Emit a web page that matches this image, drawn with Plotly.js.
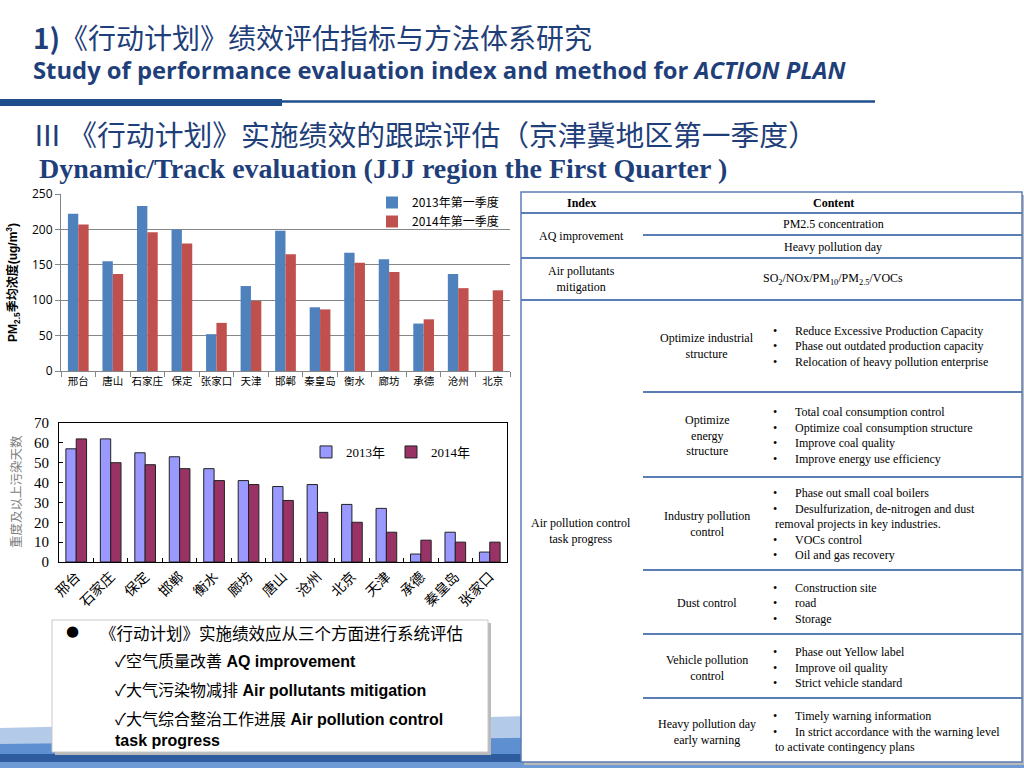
<!DOCTYPE html>
<html><head><meta charset="utf-8">
<script src="https://cdn.plot.ly/plotly-3.0.1.min.js"></script>
<style>html,body{margin:0;padding:0;background:#fff}#chart{width:1024px;height:768px}</style>
</head><body><div id="chart"></div>
<script>
// ---- Chart 1: PM2.5 quarterly average concentration ----
const pmCities = ['邢台','唐山','石家庄','保定','张家口','天津','邯郸','秦皇岛','衡水','廊坊','承德','沧州','北京'];
const pm2013 = [222,155,233,200,52,120,198,90,167,158,67,137,null];
const pm2014 = [207,137,196,180,68,99,165,87,153,140,73,117,114];
const pmSeriesNames = ['2013年第一季度','2014年第一季度'];
const pmTicks = [0,50,100,150,200,250];

// ---- Chart 2: heavy-pollution days ----
const dayCities = ['邢台','石家庄','保定','邯郸','衡水','廊坊','唐山','沧州','北京','天津','承德','秦皇岛','张家口'];
const days2013 = [57,62,55,53,47,41,38,39,29,27,4,15,5];
const days2014 = [62,50,49,47,41,39,31,25,20,15,11,10,10];
const daySeriesNames = ['2013年','2014年'];
const dayTicks = [0,10,20,30,40,50,60,70];

// ---- Table text ----
const tableRows = [
  {label:'Optimize industrial<br>structure', y:346, lines:[['•','Reduce Excessive Production Capacity'],['•','Phase out outdated production capacity'],['•','Relocation of heavy pollution enterprise']]},
  {label:'Optimize<br>energy<br>structure', y:435.5, lines:[['•','Total coal consumption control'],['•','Optimize coal consumption structure'],['•','Improve coal quality'],['•','Improve energy use efficiency']]},
  {label:'Industry pollution<br>control', y:524, lines:[['•','Phase out small coal boilers'],['•','Desulfurization, de-nitrogen and dust'],['','removal projects in key industries.'],['•','VOCs control'],['•','Oil and gas recovery']]},
  {label:'Dust control', y:603, lines:[['•','Construction site'],['•','road'],['•','Storage']]},
  {label:'Vehicle pollution<br>control', y:667.5, lines:[['•','Phase out Yellow label'],['•','Improve oil quality'],['•','Strict vehicle standard']]},
  {label:'Heavy pollution day<br>early warning', y:731.5, lines:[['•','Timely warning information'],['•','In strict accordance with the warning level'],['','to activate contingency plans']]}
];

const W = 1024, H = 768;
const px = x => x / W, py = y => 1 - y / H;
const CJK = 'Noto Sans CJK SC';
const SERIF = 'Liberation Serif, Noto Sans CJK SC';
const NAVY = '#1F3F7A';
const TBL = '#5B7DB6';

function A(text, x, y, o) {
  o = o || {};
  return {text: text, x: px(x), y: py(y), xref: 'paper', yref: 'paper', showarrow: false,
    xanchor: o.xa || 'center', yanchor: o.ya || 'middle', align: o.align || 'center',
    textangle: o.angle || 0,
    font: {family: o.family || SERIF, size: o.size || 12, color: o.color || '#000'}};
}
function rect(x0, y0, x1, y1, fill, line, lw, layer) {
  return {type: 'rect', xref: 'paper', yref: 'paper', x0: px(x0), x1: px(x1), y0: py(y1), y1: py(y0),
    fillcolor: fill || 'rgba(0,0,0,0)', line: {color: line || 'rgba(0,0,0,0)', width: lw || 0}, layer: layer || 'below'};
}
function hline(x0, x1, y, color, w) {
  return {type: 'line', xref: 'paper', yref: 'paper', x0: px(x0), x1: px(x1), y0: py(y), y1: py(y),
    line: {color: color, width: w}, layer: 'below'};
}

const traces = [
  {type: 'bar', x: pmCities, y: pm2013, name: pmSeriesNames[0], xaxis: 'x', yaxis: 'y', legend: 'legend',
   marker: {color: '#4F81BD'}, hoverinfo: 'skip'},
  {type: 'bar', x: pmCities, y: pm2014, name: pmSeriesNames[1], xaxis: 'x', yaxis: 'y', legend: 'legend',
   marker: {color: '#C0504D'}, hoverinfo: 'skip'},
  {type: 'bar', x: dayCities, y: days2013, name: daySeriesNames[0], xaxis: 'x2', yaxis: 'y2', legend: 'legend2',
   marker: {color: '#9999FF', line: {color: '#222', width: 1}}, hoverinfo: 'skip'},
  {type: 'bar', x: dayCities, y: days2014, name: daySeriesNames[1], xaxis: 'x2', yaxis: 'y2', legend: 'legend2',
   marker: {color: '#993366', line: {color: '#222', width: 1}}, hoverinfo: 'skip'}
];

const shapes = [];
// bottom decorative band
shapes.push({type: 'path', xref: 'paper', yref: 'paper',
  path: `M 0 ${py(728)} L ${px(1024)} ${py(705)} L 1 0 L 0 0 Z`, fillcolor: '#B3CBE9', line: {width: 0}, layer: 'below'});
shapes.push({type: 'path', xref: 'paper', yref: 'paper',
  path: `M 0 ${py(744)} L ${px(1024)} ${py(732)} L 1 0 L 0 0 Z`, fillcolor: '#5E8FD0', line: {width: 0}, layer: 'below'});
shapes.push(rect(0, 754, 1024, 768, '#2F5B9F'));
shapes.push(rect(0, 762, 1024, 768, '#6E9AD6'));
// title rule
shapes.push(rect(0, 99, 282, 106, '#1F4E8C'));
shapes.push(hline(282, 875, 101.5, '#1F4E8C', 2.5));
// bullet text box
shapes.push(rect(55, 623, 491, 755, '#B9B9B9'));
shapes.push(rect(52, 620, 488, 752, '#FFFFFF', '#C8C8C8', 1));
// table
shapes.push(rect(524, 195, 1025, 765, '#B9B9B9'));
shapes.push(rect(521, 192, 1022, 762, '#FFFFFF', TBL, 1.5));
[213, 258, 300].forEach(y => shapes.push(hline(521, 1022, y, TBL, 2)));
[235, 392, 477, 570, 634, 698].forEach(y => shapes.push(hline(643, 1022, y, TBL, 2)));

const ann = [];
// slide titles
ann.push(A('<b>1)</b>《行动计划》绩效评估指标与方法体系研究', 31, 37, {xa: 'left', family: CJK, size: 28, color: NAVY}));
ann.push(A('<b>Study of performance evaluation index and method for <i>ACTION PLAN</i></b>', 31, 70, {xa: 'left', family: 'Open Sans', size: 23.8, color: NAVY}));
ann.push(A('Ⅲ 《行动计划》实施绩效的跟踪评估（京津冀地区第一季度）', 31, 134, {xa: 'left', family: CJK, size: 28.8, color: NAVY}));
ann.push(A('<b>Dynamic/Track evaluation (JJJ region the First Quarter )</b>', 37, 168, {xa: 'left', family: 'Liberation Serif', size: 28, color: NAVY}));
// axis titles
ann.push(A('<b>PM<sub>2.5</sub>季均浓度(ug/m<sup>3</sup>)</b>', 13, 283, {angle: -90, family: 'Liberation Sans, ' + CJK, size: 12}));
ann.push(A('重度及以上污染天数', 15, 492, {angle: -90, family: CJK, size: 12.5, color: '#808080'}));
// bullet box
ann.push(A('●', 72, 631, {family: 'DejaVu Sans', size: 15}));
ann.push(A('《行动计划》实施绩效应从三个方面进行系统评估', 98, 633, {xa: 'left', family: CJK, size: 16.5}));
const bf = 'Liberation Sans, ' + CJK;
ann.push(A('✓空气质量改善 <b>AQ improvement</b>', 113, 661, {xa: 'left', family: bf, size: 16}));
ann.push(A('✓大气污染物减排 <b>Air pollutants mitigation</b>', 113, 690, {xa: 'left', family: bf, size: 16}));
ann.push(A('✓大气综合整治工作进展 <b>Air pollution control</b>', 113, 719, {xa: 'left', family: bf, size: 16}));
ann.push(A('<b>task progress</b>', 113, 740, {xa: 'left', family: bf, size: 16}));
// table header and top rows
ann.push(A('<b>Index</b>', 581, 202.5, {size: 12}));
ann.push(A('<b>Content</b>', 833, 202.5, {size: 12}));
ann.push(A('AQ improvement', 581, 236, {size: 12}));
ann.push(A('PM2.5 concentration', 833, 224, {size: 12}));
ann.push(A('Heavy pollution day', 833, 246.5, {size: 12}));
ann.push(A('Air pollutants<br>mitigation', 581, 279, {size: 12}));
ann.push(A('SO<sub>2</sub>/NOx/PM<sub>10</sub>/PM<sub>2.5</sub>/VOCs', 833, 279, {size: 12}));
ann.push(A('Air pollution control<br>task progress', 581, 531, {size: 12}));
tableRows.forEach(r => {
  ann.push(A(r.label, 707, r.y, {size: 12}));
  const n = r.lines.length;
  r.lines.forEach((l, i) => {
    const y = r.y + (i - (n - 1) / 2) * 15.5;
    if (l[0]) {
      ann.push(A(l[0], 775, y, {size: 12}));
      ann.push(A(l[1], 793, y, {xa: 'left', size: 12}));
    } else {
      ann.push(A(l[1], 773, y, {xa: 'left', size: 12}));
    }
  });
});

const layout = {
  width: W, height: H, autosize: false,
  margin: {l: 0, r: 0, t: 0, b: 0},
  paper_bgcolor: '#FFFFFF', plot_bgcolor: 'rgba(0,0,0,0)',
  font: {family: CJK, color: '#000'},
  barmode: 'group', bargap: 0.4, bargroupgap: 0,
  showlegend: true,
  xaxis: {domain: [px(61), px(510)], anchor: 'y', showline: true, linecolor: '#868686', linewidth: 1,
    ticks: 'outside', tickson: 'boundaries', ticklen: 5, tickcolor: '#868686', tickangle: 0,
    tickfont: {family: CJK, size: 10.5}, fixedrange: true},
  yaxis: {domain: [py(371), py(194)], anchor: 'x', range: [0, 250], tickvals: pmTicks,
    showgrid: true, gridcolor: '#868686', gridwidth: 1, zeroline: false,
    showline: true, linecolor: '#868686', ticks: 'outside', ticklen: 5, tickcolor: '#868686',
    tickfont: {family: 'Open Sans', size: 12}, fixedrange: true},
  xaxis2: {domain: [px(59), px(507)], anchor: 'y2', showline: true, linecolor: '#000', linewidth: 1, mirror: true,
    ticks: 'inside', tickson: 'boundaries', ticklen: 4, tickcolor: '#000', tickangle: -45,
    tickfont: {family: SERIF, size: 14}, fixedrange: true},
  yaxis2: {domain: [py(562), py(423)], anchor: 'x2', range: [0, 70], tickvals: dayTicks,
    showgrid: false, zeroline: false, showline: true, linecolor: '#000', linewidth: 1, mirror: true,
    ticks: 'inside', ticklen: 4, tickcolor: '#000', ticklabelstandoff: 6,
    tickfont: {family: SERIF, size: 15}, fixedrange: true},
  legend: {x: px(372), y: py(188), xanchor: 'left', yanchor: 'top', bgcolor: 'rgba(0,0,0,0)',
    font: {family: CJK, size: 12}, tracegroupgap: 0, itemwidth: 30},
  legend2: {orientation: 'h', x: px(306), y: py(452), xanchor: 'left', yanchor: 'middle', bgcolor: 'rgba(0,0,0,0)',
    font: {family: SERIF, size: 13}, itemwidth: 30, entrywidth: 40},
  shapes: shapes,
  annotations: ann
};

Plotly.newPlot('chart', traces, layout, {staticPlot: true, displayModeBar: false});
</script>
</body></html>
